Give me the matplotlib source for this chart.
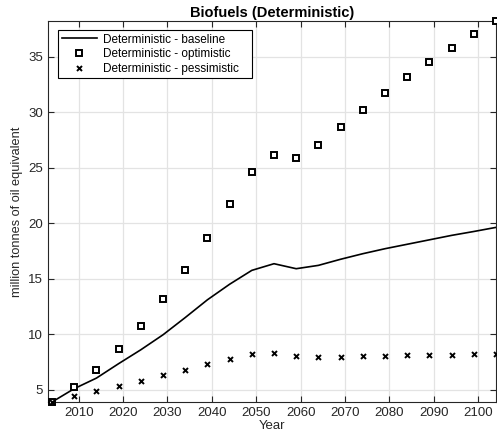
import numpy as np
import matplotlib.pyplot as plt

plt.rcParams['font.family'] = ['Liberation Sans', 'DejaVu Sans']

# Data
years = np.arange(2004, 2105, 5)
baseline = [3.9, 5.1, 6.05, 7.35, 8.6, 9.95, 11.5, 13.1, 14.5, 15.75, 16.35,
            15.9, 16.2, 16.75, 17.25, 17.7, 18.1, 18.5, 18.9, 19.25, 19.62]
optimistic = [3.9, 5.24, 6.8, 8.65, 10.75, 13.14, 15.77, 18.64, 21.7, 24.63, 26.16,
              25.85, 27.05, 28.67, 30.2, 31.72, 33.16, 34.5, 35.8, 37.05, 38.2]
pessimistic = [3.9, 4.43, 4.88, 5.36, 5.83, 6.32, 6.82, 7.33, 7.81, 8.23, 8.32,
               8.02, 7.93, 7.99, 8.05, 8.05, 8.11, 8.14, 8.17, 8.23, 8.26]
xticks = np.arange(2010, 2101, 10)
yticks = [5, 10, 15, 20, 25, 30, 35]

fig = plt.figure(figsize=(4.97, 4.41), dpi=100)
ax = fig.add_axes([48 / 497, 39 / 441, 448 / 497, 381 / 441])

ax.plot(years, baseline, color='black', lw=1.2, label='Deterministic - baseline', zorder=3)
ax.plot(years, optimistic, ls='none', marker='s', ms=3.8, mfc='white', mec='black', mew=1.4,
        label='Deterministic - optimistic', zorder=4, clip_on=False)
ax.plot(years, pessimistic, ls='none', marker='x', ms=3.6, color='black', mew=1.4,
        label='Deterministic - pessimistic', zorder=4, clip_on=False)

ax.set_xlim(2003.1, 2104)
ax.set_ylim(3.9, 38.2)
ax.set_xticks(xticks)
ax.set_yticks(yticks)
ax.grid(True, color='#e3e3e3', lw=0.9)
ax.set_axisbelow(True)
ax.tick_params(direction='in', top=True, right=True, length=4, width=0.8,
               labelsize=9.5, colors='#262626')
for s in ax.spines.values():
    s.set_color('#262626')
    s.set_linewidth(0.8)

ax.set_xlabel('Year', fontsize=9.5, color='#262626', labelpad=1)
ax.set_ylabel('million tonnes of oil equivalent', fontsize=9.2, color='#262626', labelpad=4)
ax.set_title('Biofuels (Deterministic)', fontsize=10.5, fontweight='bold', pad=3)

top = 1 - 9 / 381
leg = ax.legend(loc='upper left', bbox_to_anchor=(10 / 448, top - 0.01, 194 / 448, 0.01),
                mode='expand', fontsize=8.5, frameon=True, fancybox=False,
                edgecolor='black', framealpha=1, handlelength=3.0, borderpad=0.3,
                labelspacing=0.22, borderaxespad=0, handletextpad=0.5)
leg.get_frame().set_linewidth(0.8)

plt.savefig('out.png', dpi=100)
